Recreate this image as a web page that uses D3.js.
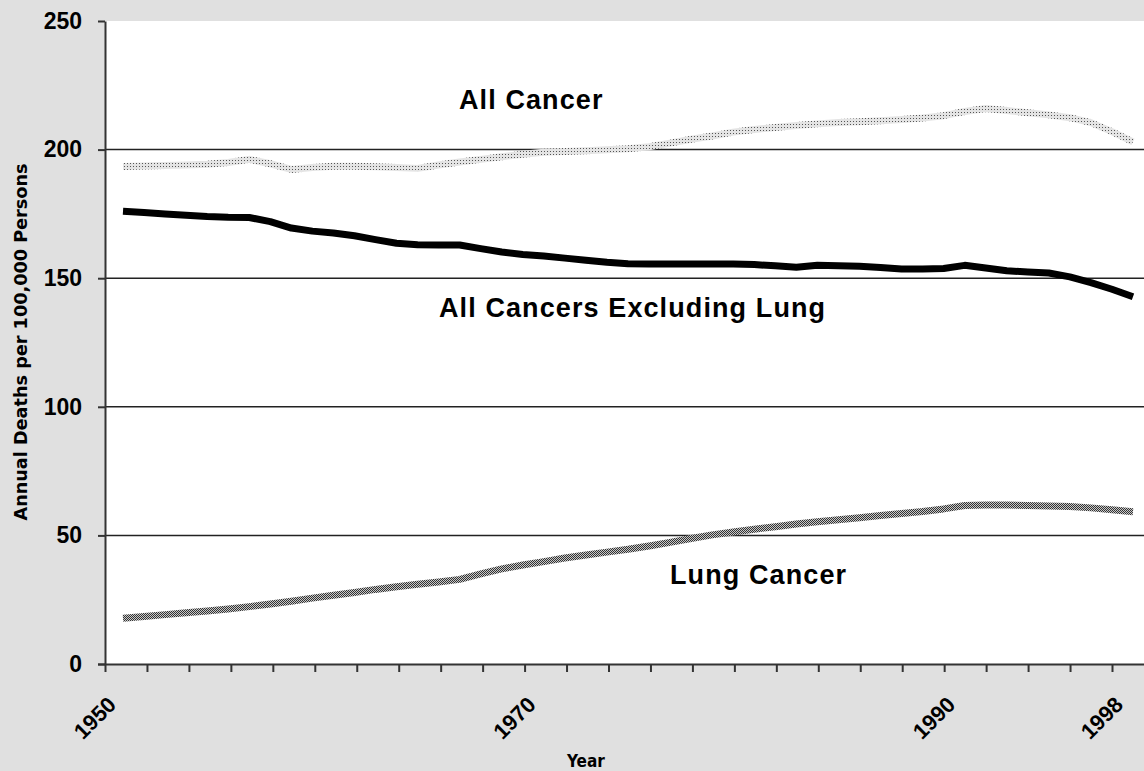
<!DOCTYPE html>
<html><head><meta charset="utf-8">
<script src="https://cdn.jsdelivr.net/npm/d3@7"></script>
<style>html,body{margin:0;padding:0;background:#e0e0e0;} svg{display:block}</style>
</head><body><svg id="c" width="1144" height="771"></svg>
<script>
const years = d3.range(1950, 1999);
const allCancer = [193.4,193.6,193.8,194,194.3,195,196.2,194.5,192.3,193,193.5,193.5,193.3,193,192.7,194,195.2,196.2,197.2,198.2,199,199.3,199.6,199.9,200.3,201.1,202.5,204,205.3,206.8,207.8,208.6,209.4,210,210.5,210.8,211.2,211.7,212.3,213.2,214.8,216,215.2,214.3,213.5,212.4,210.5,207,203];
const excludingLung = [176,175.5,175,174.5,174,173.7,173.6,172,169.5,168.3,167.6,166.5,165,163.6,163,162.9,162.9,161.5,160.2,159.2,158.6,157.8,157,156.2,155.6,155.5,155.5,155.5,155.5,155.5,155.3,154.8,154.3,155,154.8,154.6,154.2,153.6,153.6,153.8,155,154,152.9,152.4,152,150.5,148.3,145.7,142.8];
const lungCancer = [17.8,18.5,19.2,19.9,20.6,21.4,22.3,23.3,24.4,25.6,26.7,27.8,29,30,31,31.9,32.9,35,37,38.5,39.8,41.2,42.4,43.5,44.6,45.9,47.3,48.8,50.2,51.3,52.4,53.4,54.4,55.3,56.1,56.9,57.7,58.5,59.3,60.3,61.6,61.8,61.8,61.6,61.4,61.2,60.7,60,59.2];
const yTicks = [0, 50, 100, 150, 200, 250];
const gridValues = [50, 100, 150, 200];
const xTickYears = d3.range(1950, 1999, 2);
const xLabelYears = [1950, 1970, 1990, 1998];
const seriesLabels = ["All Cancer", "All Cancers Excluding Lung", "Lung Cancer"];
const yTitle = "Annual Deaths per 100,000 Persons";
const xTitle = "Year";

(function(){
const svg = d3.select("#c");
const W = 1144, H = 771;
const mL = 105, mR = 1144, mT = 21, mB = 664;

const y = d3.scaleLinear().domain([0, 250]).range([mB, mT]);
const xt = d3.scaleLinear().domain([1950, 1998]).range([mL, 1112]);
const xd = d3.scaleLinear().domain([1950, 1998]).range([123, 1133]);

const defs = svg.append("defs");
const p1 = defs.append("pattern").attr("id","dotPat").attr("patternUnits","userSpaceOnUse").attr("width",3).attr("height",3);
p1.append("rect").attr("width",3).attr("height",3).attr("fill","#e4e4e4");
p1.append("rect").attr("x",1).attr("y",1).attr("width",1).attr("height",1).attr("fill","#555");
const p2 = defs.append("pattern").attr("id","chkPat").attr("patternUnits","userSpaceOnUse").attr("width",2).attr("height",2);
p2.append("rect").attr("width",2).attr("height",2).attr("fill","#c8c8c8");
p2.append("rect").attr("x",0).attr("y",0).attr("width",1).attr("height",1).attr("fill","#333");
p2.append("rect").attr("x",1).attr("y",1).attr("width",1).attr("height",1).attr("fill","#333");

svg.append("rect").attr("width",W).attr("height",H).attr("fill","#e0e0e0");
svg.append("rect").attr("x",mL).attr("y",mT).attr("width",mR-mL).attr("height",mB-mT).attr("fill","#fff");

svg.append("g").selectAll("line").data(gridValues).join("line")
  .attr("x1",mL).attr("x2",mR).attr("y1",d=>y(d)).attr("y2",d=>y(d))
  .attr("stroke","#222").attr("stroke-width",1.5);

const line = d3.line().x((d,i)=>xd(years[i])).y(d=>y(d));
svg.append("path").datum(allCancer).attr("d",line).attr("fill","none")
  .attr("stroke","url(#dotPat)").attr("stroke-width",7).attr("stroke-linejoin","round");
svg.append("path").datum(excludingLung).attr("d",line).attr("fill","none")
  .attr("stroke","#000").attr("stroke-width",7).attr("stroke-linejoin","round");
svg.append("path").datum(lungCancer).attr("d",line).attr("fill","none")
  .attr("stroke","url(#chkPat)").attr("stroke-width",7).attr("stroke-linejoin","round");

const yAxis = svg.append("g").attr("transform",`translate(${mL},0)`)
  .call(d3.axisLeft(y).tickValues(yTicks).tickSize(7).tickPadding(16).tickSizeOuter(0));
yAxis.select(".domain").attr("stroke","#333").attr("stroke-width",2);
yAxis.selectAll(".tick line").attr("stroke","#333").attr("stroke-width",2);
yAxis.selectAll(".tick text").attr("font-family","'Liberation Sans', Arial, sans-serif")
  .attr("font-size",23).attr("font-weight","bold").attr("fill","#000");

const xAxis = svg.append("g").attr("transform",`translate(0,${mB})`)
  .call(d3.axisBottom(xt).tickValues(xTickYears).tickSize(8).tickSizeOuter(0)
    .tickFormat(d => xLabelYears.includes(d) ? String(d) : ""));
xAxis.select(".domain").attr("d",`M${mL-7},0.5H${mR}`).attr("stroke","#333").attr("stroke-width",2);
xAxis.selectAll(".tick line").attr("stroke","#333").attr("stroke-width",2);
xAxis.selectAll(".tick text")
  .attr("font-family","'Liberation Sans', Arial, sans-serif")
  .attr("font-size",22).attr("font-weight","bold").attr("fill","#000")
  .attr("text-anchor","end").attr("y",0).attr("dy",0)
  .attr("transform","translate(12,42) rotate(-45)");

const lab = svg.append("g").attr("font-family","'Liberation Sans', Arial, sans-serif")
  .attr("font-size",27).attr("font-weight","bold").attr("letter-spacing",1.1).attr("fill","#000");
lab.append("text").attr("x",459).attr("y",109).text(seriesLabels[0]);
lab.append("text").attr("x",439).attr("y",317).text(seriesLabels[1]);
lab.append("text").attr("x",670).attr("y",584).text(seriesLabels[2]);

svg.append("text").attr("transform","translate(27,342) rotate(-90)")
  .attr("text-anchor","middle").attr("font-family","'Liberation Sans Narrow','DejaVu Sans Condensed', sans-serif")
  .attr("font-size",17).attr("font-weight","bold").attr("textLength",357).attr("lengthAdjust","spacingAndGlyphs")
  .text(yTitle);
svg.append("text").attr("x",586).attr("y",767).attr("text-anchor","middle")
  .attr("font-family","'Liberation Sans Narrow','DejaVu Sans Condensed', sans-serif")
  .attr("font-size",17).attr("font-weight","bold").text(xTitle);
})();
</script></body></html>
